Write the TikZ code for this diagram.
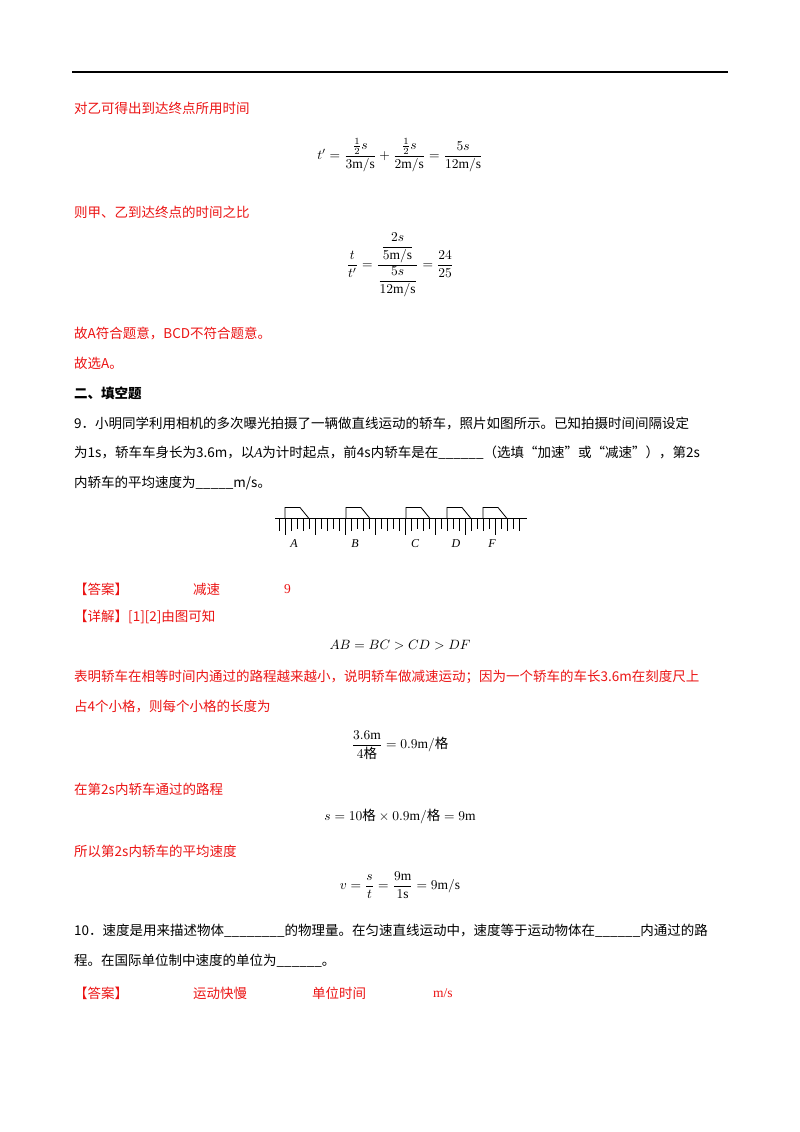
\documentclass[tikz,border=0pt]{standalone}
\usepackage{amsmath}
\usepackage{fontspec}
\setmainfont{Liberation Serif}
\newfontfamily\cjk{Noto Sans CJK SC}
\definecolor{ans}{RGB}{235,20,20}
\begin{document}
\begin{tikzpicture}[x=1pt,y=-1pt,
  red line/.style={anchor=west,inner sep=0pt,text=ans,font=\fontsize{13.5}{14}\selectfont\cjk},
  blk line/.style={anchor=west,inner sep=0pt,text=black,font=\fontsize{13.5}{14}\selectfont\cjk},
  eq/.style={inner sep=0pt,scale=1.35},
  lbl/.style={inner sep=0pt,font=\fontsize{12}{13}\selectfont\itshape}]
\useasboundingbox (0,0) rectangle (800,1132);
\draw[line width=1.8pt] (72,72) -- (728,72);
\node[red line] (l1) at (74,108) {对乙可得出到达终点所用时间};
\node[eq] (f1) at (400,155) {$t'=\dfrac{\frac{1}{2}s}{3\mathrm{m/s}}+\dfrac{\frac{1}{2}s}{2\mathrm{m/s}}=\dfrac{5s}{12\mathrm{m/s}}$};
\node[red line] (l2) at (74,212) {则甲、乙到达终点的时间之比};
\node[eq] (f2) at (400,265) {$\dfrac{t}{t'}=\dfrac{\dfrac{2s}{5\mathrm{m/s}}}{\dfrac{5s}{12\mathrm{m/s}}}=\dfrac{24}{25}$};
\node[red line] (l3) at (74,333) {故A符合题意，BCD不符合题意。};
\node[red line] (l4) at (74,363) {故选A。};
\node[blk line,font=\fontsize{13.5}{14}\selectfont\cjk\bfseries] (l5) at (74,393) {二、填空题};
\node[blk line] (l6) at (74,423) {9．小明同学利用相机的多次曝光拍摄了一辆做直线运动的轿车，照片如图所示。已知拍摄时间间隔设定};
\node[blk line] (l7) at (74,453) {为1s，轿车车身长为3.6m，以{\rmfamily\itshape A}为计时起点，前4s内轿车是在\_\_\_\_\_\_（选填“加速”或“减速”），第2s};
\node[blk line] (l8) at (74,483) {内轿车的平均速度为\_\_\_\_\_m/s。};
% ruler diagram
\coordinate (r0) at (275,518.5);
\coordinate (r1) at (527,518.5);
\draw[line width=0.8pt] (r0) -- (r1);
\foreach \i in {0,...,40}{
  \pgfmathsetmacro{\len}{mod(\i,5)==1 ? 16 : (mod(\i,2)==0 ? 12 : 10)}
  \draw[line width=0.7pt] (279+6*\i,518.5) -- ++(0,\len);
}
\foreach \cx/\nm in {285/A,346/B,406/C,447/D,483/F}{
  \draw[line width=0.8pt] (\cx,518.5) -- (\cx,507.5) -- (\cx+15,507.5) -- (\cx+24,518.5);
  \node[lbl] (car\nm) at (\cx+9,544) {\nm};
}
\node[red line] (a1) at (74,589) {【答案】};
\node[red line] (a2) at (193,589) {减速};
\node[red line,font=\fontsize{13.5}{14}\selectfont] (a3) at (284,589) {9};
\node[red line] (d1) at (74,617) {【详解】[1][2]由图可知};
\node[eq] (f3) at (400,645) {$AB=BC>CD>DF$};
\node[red line] (l9) at (74,677) {表明轿车在相等时间内通过的路程越来越小，说明轿车做减速运动；因为一个轿车的车长3.6m在刻度尺上};
\node[red line] (l10) at (74,707) {占4个小格，则每个小格的长度为};
\node[eq] (f4) at (400,745) {$\dfrac{3.6\mathrm{m}}{4\text{\cjk 格}}=0.9\mathrm{m}/\text{\cjk 格}$};
\node[red line] (l11) at (74,789) {在第2s内轿车通过的路程};
\node[eq] (f5) at (400,817) {$s=10\text{\cjk 格}\times0.9\mathrm{m}/\text{\cjk 格}=9\mathrm{m}$};
\node[red line] (l12) at (74,851) {所以第2s内轿车的平均速度};
\node[eq] (f6) at (400,885) {$v=\dfrac{s}{t}=\dfrac{9\mathrm{m}}{1\mathrm{s}}=9\mathrm{m/s}$};
\node[blk line] (l13) at (74,931) {10．速度是用来描述物体\_\_\_\_\_\_\_\_的物理量。在匀速直线运动中，速度等于运动物体在\_\_\_\_\_\_内通过的路};
\node[blk line] (l14) at (74,961) {程。在国际单位制中速度的单位为\_\_\_\_\_\_。};
\node[red line] (b1) at (74,993) {【答案】};
\node[red line] (b2) at (193,993) {运动快慢};
\node[red line] (b3) at (312,993) {单位时间};
\node[red line,font=\fontsize{13.5}{14}\selectfont] (b4) at (433,993) {m/s};
\end{tikzpicture}
\end{document}
